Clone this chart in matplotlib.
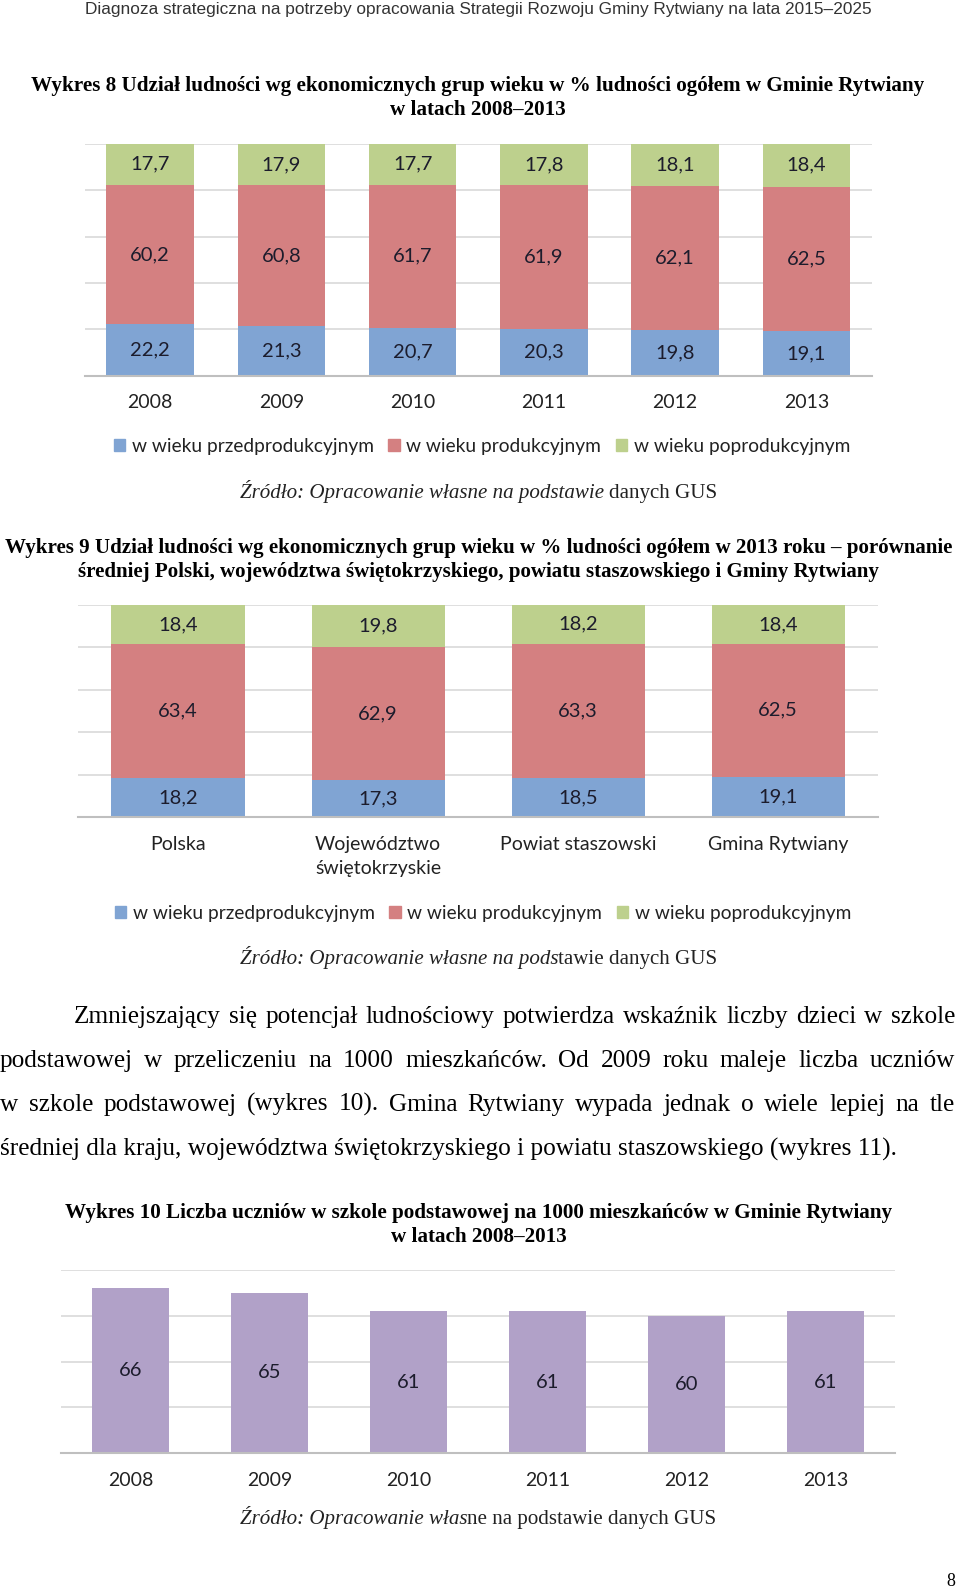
import matplotlib
matplotlib.use("Agg")
import matplotlib.pyplot as plt
from matplotlib.patches import Patch

W, H = 960, 1592

# dane - wykres 8
years = ['2008', '2009', '2010', '2011', '2012', '2013']
pre_8 = [22.2, 21.3, 20.7, 20.3, 19.8, 19.1]
prod_8 = [60.2, 60.8, 61.7, 61.9, 62.1, 62.5]
post_8 = [17.7, 17.9, 17.7, 17.8, 18.1, 18.4]

# dane - wykres 9
regions = ['Polska', 'Województwo\nświętokrzyskie', 'Powiat staszowski', 'Gmina Rytwiany']
pre_9 = [18.2, 17.3, 18.5, 19.1]
prod_9 = [63.4, 62.9, 63.3, 62.5]
post_9 = [18.4, 19.8, 18.2, 18.4]

# dane - wykres 10
pupils = [66, 65, 61, 61, 60, 61]

series_names = ['w wieku przedprodukcyjnym', 'w wieku produkcyjnym', 'w wieku poprodukcyjnym']

BLUE, RED, GREEN, PURPLE = '#80a4d3', '#d48081', '#bdd08d', '#b1a1c8'
LABEL_C = '#1c1c2c'
GRID_C = '#d9d9d9'

SANS = ['Lato', 'DejaVu Sans']
SERIF = ['Liberation Serif', 'DejaVu Serif']
HEAD = ['Liberation Sans Narrow', 'Liberation Sans', 'DejaVu Sans']

fig = plt.figure(figsize=(9.6, 15.92), dpi=100)
renderer = fig.canvas.get_renderer()


def fx(x):
    return x / W


def fy(y):
    return 1 - y / H


def text_width(s, **kw):
    t = fig.text(0, 0, s, **kw)
    w = t.get_window_extent(renderer).width
    t.remove()
    return w


def fit_size(s, width, **kw):
    # rozmiar czcionki dla zadanej szerokosci tekstu
    return 10 * width / text_width(s, fontsize=10, **kw)


def page_text(x, y, s, size, ha='center', **kw):
    # y = srodek linii w px, rysowane od linii bazowej
    base = y + 0.3 * size * 100 / 72
    fig.text(fx(x), fy(base), s, fontsize=size, ha=ha, va='baseline', **kw)


def justify(line, x0, x1, y, size, **kw):
    words = line.split()
    widths = [text_width(w, fontsize=size, **kw) for w in words]
    gap = (x1 - x0 - sum(widths)) / (len(words) - 1)
    x = x0
    for w, ww in zip(words, widths):
        page_text(x, y, w, size, ha='left', **kw)
        x += ww + gap


def source(y, ital, normal, x0=239.5, x1=717.5):
    w10 = text_width(ital, fontsize=10, family=SERIF, style='italic') + \
        text_width(normal, fontsize=10, family=SERIF)
    size = 10 * (x1 - x0) / w10
    wi = text_width(ital, fontsize=size, family=SERIF, style='italic')
    page_text(x0, y, ital, size, ha='left', family=SERIF, style='italic', color='#222222')
    page_text(x0 + wi, y, normal, size, ha='left', family=SERIF, color='#222222')


def title(lines, y0, x0, x1, dy=24):
    size = fit_size(lines[0], x1 - x0, family=SERIF, weight='bold')
    for i, ln in enumerate(lines):
        page_text((x0 + x1) / 2, y0 + i * dy, ln, size, family=SERIF, weight='bold')


def make_axes(left, right, top, bottom):
    ax = fig.add_axes([fx(left), fy(bottom), (right - left) / W, (bottom - top) / H])
    for s in ax.spines.values():
        s.set_visible(False)
    ax.spines['bottom'].set_visible(True)
    ax.spines['bottom'].set_color('#bfbfbf')
    ax.spines['bottom'].set_linewidth(1.5)
    ax.yaxis.grid(True, color=GRID_C, linewidth=1.2)
    ax.set_axisbelow(True)
    ax.tick_params(left=False, labelleft=False, bottom=False, pad=10, labelsize=14)
    return ax


def stacked(ax, cats, pre, prod, post, width):
    x = range(len(cats))
    bottom = [0] * len(cats)
    for vals, col in zip([pre, prod, post], [BLUE, RED, GREEN]):
        bars = ax.bar(x, vals, width, bottom=bottom, color=col)
        ax.bar_label(bars, labels=[f'{v:.1f}'.replace('.', ',') for v in vals],
                     label_type='center', fontsize=14.5, color=LABEL_C, family=SANS)
        bottom = [b + v for b, v in zip(bottom, vals)]
    ax.set_xticks(list(x))
    ax.set_xticklabels(cats, family=SANS, fontsize=14, color='#222222', linespacing=1.55)
    ax.set_xlim(-0.5, len(cats) - 0.5)
    ax.set_ylim(0, 100)
    ax.set_yticks([0, 20, 40, 60, 80, 100])


def legend(y, xc):
    handles = [Patch(color=c, label=n) for c, n in zip([BLUE, RED, GREEN], series_names)]
    fig.legend(handles=handles, loc='center', bbox_to_anchor=(fx(xc), fy(y)), ncol=3,
               frameon=False, prop={'family': SANS, 'size': 13.8}, handlelength=0.6,
               handleheight=0.6, handletextpad=0.35, columnspacing=0.75, labelcolor='#222222')


# naglowek strony
hs = fit_size('Diagnoza strategiczna na potrzeby opracowania Strategii Rozwoju Gminy Rytwiany na lata 2015–2025',
              790, family=HEAD)
page_text(478, 9, 'Diagnoza strategiczna na potrzeby opracowania Strategii Rozwoju Gminy Rytwiany na lata 2015–2025',
          hs, family=HEAD, color='#333333')

# wykres 8
title(['Wykres 8 Udział ludności wg ekonomicznych grup wieku w % ludności ogółem w Gminie Rytwiany',
       'w latach 2008–2013'], 85, 30.5, 925.5)
ax1 = make_axes(84.5, 872, 144, 375.5)
stacked(ax1, years, pre_8, prod_8, post_8, 0.665)
legend(446.5, 482)
source(492, 'Źródło: Opracowanie własne na podstawie ', 'danych GUS')

# wykres 9
title(['Wykres 9 Udział ludności wg ekonomicznych grup wieku w % ludności ogółem w 2013 roku – porównanie',
       'średniej Polski, województwa świętokrzyskiego, powiatu staszowskiego i Gminy Rytwiany'],
      547, 2, 955)
ax2 = make_axes(78, 878, 605, 817)
stacked(ax2, regions, pre_9, prod_9, post_9, 0.665)
legend(913, 483)
source(958, 'Źródło: Opracowanie własne na pods', 'tawie danych GUS')

# tekst akapitu
para = ['Zmniejszający się potencjał ludnościowy potwierdza wskaźnik liczby dzieci w szkole',
        'podstawowej w przeliczeniu na 1000 mieszkańców. Od 2009 roku maleje liczba uczniów',
        'w szkole podstawowej (wykres 10). Gmina Rytwiany wypada jednak o wiele lepiej na tle',
        'średniej dla kraju, województwa świętokrzyskiego i powiatu staszowskiego (wykres 11).']
ps = fit_size(para[3], 900, family=SERIF)
justify(para[0], 74, 955, 1015, ps, family=SERIF)
justify(para[1], 0, 955, 1059, ps, family=SERIF)
justify(para[2], 0, 955, 1103, ps, family=SERIF)
page_text(0, 1148, para[3], ps, ha='left', family=SERIF)

# wykres 10
title(['Wykres 10 Liczba uczniów w szkole podstawowej na 1000 mieszkańców w Gminie Rytwiany',
       'w latach 2008–2013'], 1212, 64, 893)
ax3 = make_axes(61, 895, 1270, 1453)
bars = ax3.bar(range(len(years)), pupils, 0.56, color=PURPLE)
ax3.bar_label(bars, labels=[str(v) for v in pupils], label_type='center',
              fontsize=14.5, color=LABEL_C, family=SANS)
ax3.set_xticks(range(len(years)))
ax3.set_xticklabels(years, family=SANS, fontsize=14, color='#222222')
ax3.set_xlim(-0.5, len(years) - 0.5)
ax3.set_ylim(30, 70)
ax3.set_yticks([30, 40, 50, 60, 70])
source(1518, 'Źródło: Opracowanie włas', 'ne na podstawie danych GUS')

# numer strony
page_text(951, 1581, '8', 13, family=SERIF)

fig.savefig('out.png', dpi=100)
